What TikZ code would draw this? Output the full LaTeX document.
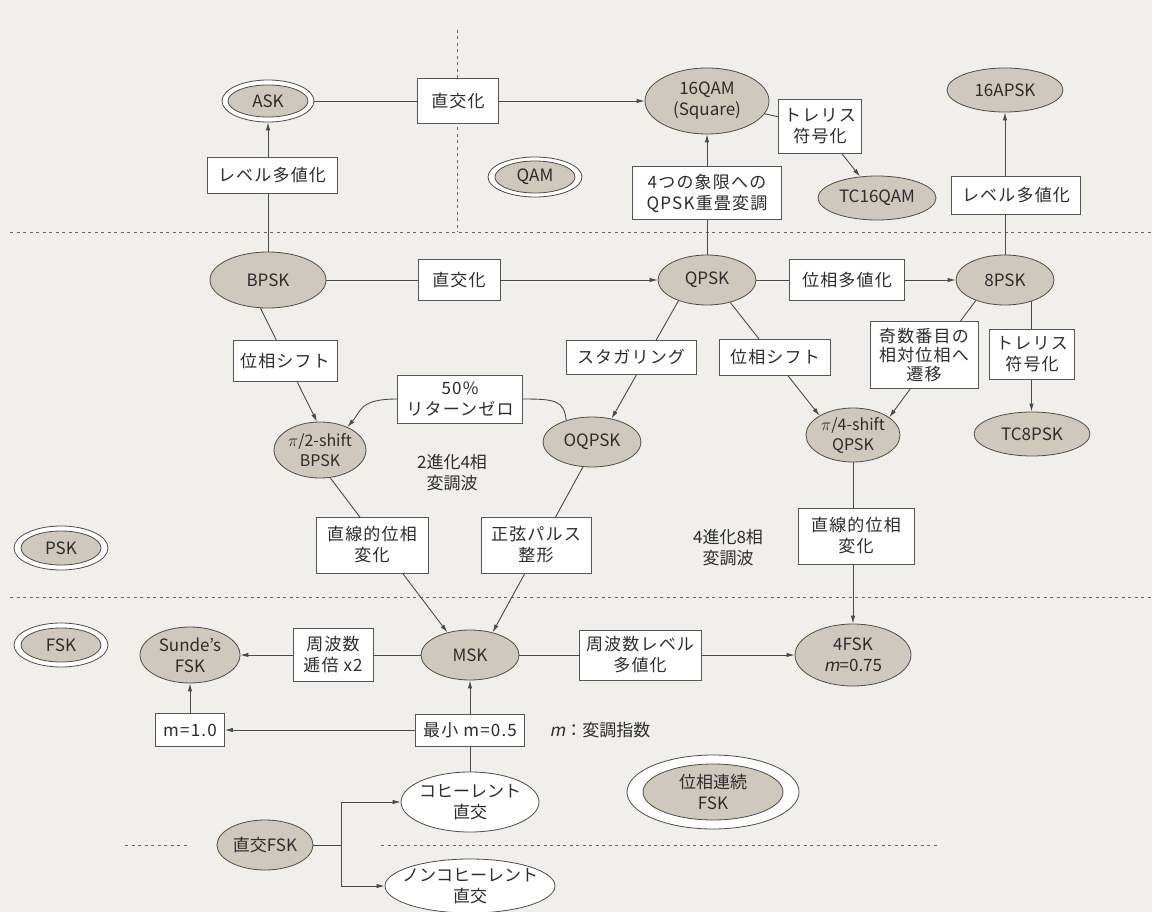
\documentclass[tikz,border=0pt]{standalone}
\usepackage{fontspec}
\setmainfont{Noto Sans CJK JP}[AutoFakeSlant=0.2]
\usetikzlibrary{shapes.geometric,arrows.meta,calc}
\pgfdeclarelayer{bg}
\pgfsetlayers{bg,main}
\definecolor{bgc}{HTML}{F1EFEB}
\definecolor{ellf}{HTML}{CFC9BD}
\definecolor{elld}{HTML}{4F4B46}
\definecolor{boxd}{HTML}{555555}
\definecolor{lnc}{HTML}{4A4A4A}
\definecolor{sepc}{HTML}{666666}
\definecolor{txt}{HTML}{2C2C2C}
\begin{document}
\begin{tikzpicture}[x=1pt,y=-1pt,
  every node/.style={font=\fontsize{17}{21}\selectfont, text=txt},
  ell/.style={ellipse, draw=elld, fill=ellf, line width=0.8pt, inner xsep=-20pt, inner ysep=-10pt, align=center},
  wel/.style={ell, fill=white},
  box/.style={rectangle, draw=boxd, fill=white, line width=0.8pt, inner sep=2pt, align=center,
    font=\fontsize{17}{21}\selectfont\addfontfeature{LetterSpace=7}},
  plain/.style={align=center, inner sep=0pt},
  conn/.style={draw=lnc, line width=0.9pt},
  arr/.style={conn, -{Latex[length=8pt,width=4.5pt]}},
  sepline/.style={draw=sepc, line width=1pt, dash pattern=on 3pt off 3.5pt},
]
\useasboundingbox (0,0) rectangle (1152,912);

% ---------- top band ----------
\node[wel, minimum width=92pt, minimum height=42pt] (askO) at (268,101) {};
\node[ell, minimum width=80pt, minimum height=32pt] (ask) at (268,101) {ASK};
\node[box, minimum width=81pt, minimum height=45pt] (b1) at (458,101) {直交化};
\node[ell, minimum width=124pt, minimum height=66pt] (qam16) at (707,101) {16QAM\\(Square)};
\node[box, minimum width=130pt, minimum height=36pt] (b2) at (272,175) {レベル多値化};
\node[wel, minimum width=94pt, minimum height=40pt] (qamO) at (535,177) {};
\node[ell, minimum width=80pt, minimum height=32pt] (qam) at (535,177) {QAM};
\node[box, minimum width=83pt, minimum height=54pt] (b3) at (820,126) {トレリス\\符号化};
\node[ell, minimum width=118pt, minimum height=44pt] (tc16) at (877,198) {TC16QAM};
\node[box, minimum width=149pt, minimum height=53pt] (b4) at (707,193) {4つの象限への\\QPSK重畳変調};
\node[ell, minimum width=116pt, minimum height=44pt] (apsk) at (1005,90) {16APSK};
\node[box, minimum width=129pt, minimum height=38pt] (b5) at (1016,195) {レベル多値化};

% ---------- PSK band ----------
\node[ell, minimum width=116pt, minimum height=56pt] (bpsk) at (268,280) {BPSK};
\node[box, minimum width=82pt, minimum height=41pt] (b6) at (459,280) {直交化};
\node[ell, minimum width=98pt, minimum height=50pt] (qpsk) at (707,280) {QPSK};
\node[box, minimum width=115pt, minimum height=41pt] (b7) at (847,280) {位相多値化};
\node[ell, minimum width=98pt, minimum height=50pt] (psk8) at (1005,280) {8PSK};
\node[box, minimum width=104pt, minimum height=41pt] (b8) at (285,361) {位相シフト};
\node[box, minimum width=125pt, minimum height=48pt] (b9) at (460,399) {50\%\\リターンゼロ};
\node[box, minimum width=130pt, minimum height=34pt] (b10) at (631,357) {スタガリング};
\node[box, minimum width=111pt, minimum height=36pt] (b11) at (775,357) {位相シフト};
\node[box, minimum width=108pt, minimum height=67pt, font=\fontsize{17}{19}\selectfont\addfontfeature{LetterSpace=7}] (b12) at (924,355) {奇数番目の\\相対位相へ\\遷移};
\node[box, minimum width=85pt, minimum height=50pt] (b13) at (1032,354) {トレリス\\符号化};
\node[ell, minimum width=92pt, minimum height=56pt, font=\fontsize{16}{20}\selectfont] (pi2) at (320,450) {$\pi$/2-shift\\BPSK};
\node[ell, minimum width=98pt, minimum height=50pt] (oqpsk) at (592,442) {OQPSK};
\node[ell, minimum width=94pt, minimum height=54pt, font=\fontsize{16}{20}\selectfont] (pi4) at (853,435) {$\pi$/4-shift\\QPSK};
\node[ell, minimum width=116pt, minimum height=44pt] (tc8) at (1032,434) {TC8PSK};
\node[plain] (t1) at (452,473) {2進化4相\\変調波};
\node[wel, minimum width=94pt, minimum height=44pt] (pskO) at (61,548) {};
\node[ell, minimum width=80pt, minimum height=34pt] (psk) at (61,548) {PSK};
\node[box, minimum width=112pt, minimum height=56pt] (b14) at (372,545) {直線的位相\\変化};
\node[box, minimum width=110pt, minimum height=56pt] (b15) at (536,545) {正弦パルス\\整形};
\node[plain] (t2) at (728,548) {4進化8相\\変調波};
\node[box, minimum width=116pt, minimum height=56pt] (b16) at (856,536) {直線的位相\\変化};

% ---------- FSK band ----------
\node[wel, minimum width=94pt, minimum height=44pt] (fskO) at (61,645) {};
\node[ell, minimum width=80pt, minimum height=34pt] (fsk) at (61,645) {FSK};
\node[ell, minimum width=100pt, minimum height=56pt] (sunde) at (190,655) {Sunde's\\FSK};
\node[box, minimum width=80pt, minimum height=53pt] (b17) at (333,655) {周波数\\逓倍 x2};
\node[ell, minimum width=98pt, minimum height=50pt] (msk) at (470,655) {MSK};
\node[box, minimum width=122pt, minimum height=50pt] (b18) at (640,655) {周波数レベル\\多値化};
\node[ell, minimum width=116pt, minimum height=62pt] (fsk4) at (853,655) {4FSK\\\textit{m}=0.75};
\node[box, minimum width=69pt, minimum height=33pt] (b20) at (190,730) {m=1.0};
\node[box, minimum width=109pt, minimum height=32pt] (b19) at (470,730) {最小 m=0.5};
\node[plain] (t3) at (600,730) {\textit{m}：変調指数};
\node[wel, minimum width=172pt, minimum height=74pt] (cfskO) at (713,792) {};
\node[ell, minimum width=140pt, minimum height=56pt] (cfsk) at (713,792) {位相連続\\FSK};
\node[wel, minimum width=138pt, minimum height=60pt] (coh) at (470,802) {コヒーレント\\直交};
\node[ell, minimum width=96pt, minimum height=50pt] (orth) at (265,845) {直交FSK};
\node[wel, minimum width=170pt, minimum height=54pt] (ncoh) at (470,886) {ノンコヒーレント\\直交};
\coordinate (br) at ($(orth.east)+(28,0)$);

\begin{pgfonlayer}{bg}
\fill[bgc] (0,0) rectangle (1152,912);
% separators
\draw[sepline] (457,30) -- (457,232);
\draw[sepline] (10,233) -- (1152,233);
\draw[sepline] (10,597) -- (1152,597);
\draw[sepline] (125,845) -- (190,845);
\draw[sepline] (381,845) -- (938,845);
% connectors
\draw[arr] (askO) -- (qam16);
\draw[arr] (bpsk) -- (askO);
\draw[arr] (qpsk) -- (qam16);
\draw[conn] (qam16) -- (b3);
\draw[arr] (b3) -- (tc16);
\draw[arr] (psk8) -- (apsk);
\draw[arr] (bpsk) -- (qpsk);
\draw[arr] (qpsk) -- (psk8);
\draw[arr] (bpsk.-105) -- (pi2.96);
\draw[arr] (qpsk.-144) -- (oqpsk.50);
\draw[arr] (qpsk.-44) -- (pi4.150);
\draw[arr] (psk8.-145) -- (pi4.26);
\draw[arr] (psk8.-39) -- (psk8.-39 |- tc8.north);
\draw[arr] (b9.west) .. controls ($(b9.west)+(-38,0)$) and ($(pi2.40)+(14,-16)$) .. (pi2.40);
\draw[conn] (b9.east) .. controls ($(b9.east)+(32,0)$) and ($(oqpsk.140)+(-2,-20)$) .. (oqpsk.140);
\draw[arr] (pi2.-70) -- (msk.135);
\draw[arr] (oqpsk.-110) -- (msk.45);
\draw[arr] (pi4) -- (fsk4);
\draw[arr] (msk) -- (sunde);
\draw[arr] (msk) -- (fsk4);
\draw[conn] (coh) -- (b19);
\draw[arr] (b19) -- (msk);
\draw[arr] (b19) -- (b20);
\draw[arr] (b20) -- (sunde);
\draw[conn] (orth) -- (br);
\draw[arr] (br) |- (coh.west);
\draw[arr] (br) |- (ncoh.west);
\end{pgfonlayer}
\end{tikzpicture}
\end{document}
